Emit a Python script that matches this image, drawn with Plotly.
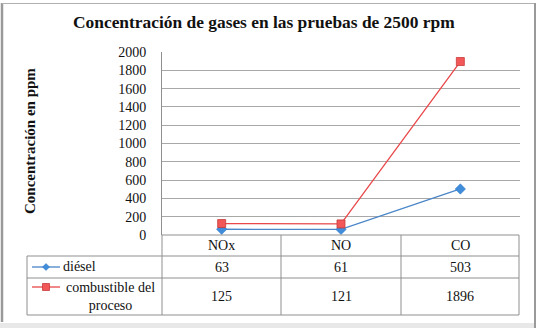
import plotly.graph_objects as go

categories = ["NOx", "NO", "CO"]
diesel = [63, 61, 503]
combustible = [125, 121, 1896]
series_names = ["diésel", "combustible del<br>proceso"]
y_ticks = [0, 200, 400, 600, 800, 1000, 1200, 1400, 1600, 1800, 2000]
title_text = "Concentración de gases en las pruebas de 2500 rpm"
y_title = "Concentración en ppm"

W, H = 539, 328
L, R, T, B = 162, 520, 52, 235
SERIF = "'Liberation Serif', 'Times New Roman', Times, serif"
GRID = "#a8a8a8"
TBL = "#8f8f8f"
BLUE = "#4a86c8"
BLUE_M = "#3f8ddb"
RED = "#e8484a"
RED_M = "#f25858"


def px(x):
    return (x - L) / (R - L)


def py(y):
    return (B - y) / (B - T)


fig = go.Figure()
fig.add_trace(go.Scatter(x=categories, y=diesel, mode="lines+markers",
                         line=dict(color=BLUE, width=1.3),
                         marker=dict(symbol="diamond", size=8, color=BLUE_M,
                                     line=dict(color="#2f75c0", width=0.5)),
                         showlegend=False, cliponaxis=False, hoverinfo="skip"))
fig.add_trace(go.Scatter(x=categories, y=combustible, mode="lines+markers",
                         line=dict(color=RED, width=1.3),
                         marker=dict(symbol="square", size=8, color=RED_M,
                                     line=dict(color="#c83a3a", width=0.8)),
                         showlegend=False, cliponaxis=False, hoverinfo="skip"))

shapes = []
def hline(x0, x1, y, color=TBL, w=1):
    shapes.append(dict(type="line", xref="paper", yref="paper",
                       x0=px(x0), x1=px(x1), y0=py(y), y1=py(y),
                       line=dict(color=color, width=w)))

def vline(x, y0, y1, color=TBL, w=1):
    shapes.append(dict(type="line", xref="paper", yref="paper",
                       x0=px(x), x1=px(x), y0=py(y0), y1=py(y1),
                       line=dict(color=color, width=w)))

# table grid
hline(162, 519, 235)
hline(27, 519, 256)
hline(27, 519, 278)
hline(27, 519, 315)
for xv in [162, 281, 401, 519]:
    vline(xv, 235, 315)
vline(27, 256, 315)

# outer frame
vline(2, 3, 322, color="#9a9a9a", w=2.5)
hline(2, 535, 3.5, color="#b0b0b0", w=1.2)
vline(535, 3, 328, color="#9a9a9a", w=2)
shapes.append(dict(type="rect", xref="paper", yref="paper",
                   x0=px(0), x1=px(534), y0=py(323), y1=py(328),
                   fillcolor="#e8e8e8", line=dict(width=0), layer="below"))

# legend keys
ky1, ky2 = 267, 287
hline(32, 60, ky1, color=BLUE, w=1.3)
d = 3.5
shapes.append(dict(type="path", xref="paper", yref="paper",
                   path=f"M {px(46-d)},{py(ky1)} L {px(46)},{py(ky1-d)} L {px(46+d)},{py(ky1)} L {px(46)},{py(ky1+d)} Z",
                   fillcolor=BLUE_M, line=dict(color="#2f75c0", width=0.5)))
hline(32, 60, ky2, color=RED, w=1.3)
s = 3.5
shapes.append(dict(type="rect", xref="paper", yref="paper",
                   x0=px(46-s), x1=px(46+s), y0=py(ky2+s), y1=py(ky2-s),
                   fillcolor=RED_M, line=dict(color="#c83a3a", width=0.8)))

annotations = []
tf = dict(family=SERIF, size=14, color="#111111")
for c in categories:
    annotations.append(dict(x=c, xref="x", y=py(245.5), yref="paper", text=c,
                            showarrow=False, font=tf, xanchor="center", yanchor="middle"))
for c, v in zip(categories, diesel):
    annotations.append(dict(x=c, xref="x", y=py(267), yref="paper", text=str(v),
                            showarrow=False, font=tf, xanchor="center", yanchor="middle"))
for c, v in zip(categories, combustible):
    annotations.append(dict(x=c, xref="x", y=py(296.5), yref="paper", text=str(v),
                            showarrow=False, font=tf, xanchor="center", yanchor="middle"))
annotations.append(dict(x=px(61), xref="paper", y=py(266.5), yref="paper", text=series_names[0],
                        showarrow=False, font=tf, xanchor="left", yanchor="middle"))
annotations.append(dict(x=px(110), xref="paper", y=py(296.5), yref="paper", text=series_names[1],
                        showarrow=False, font=tf, xanchor="center", yanchor="middle", align="center"))
annotations.append(dict(x=px(30), xref="paper", y=py(141), yref="paper", text=f"<b>{y_title}</b>",
                        showarrow=False, textangle=-90,
                        font=dict(family=SERIF, size=15, color="#111111"),
                        xanchor="center", yanchor="middle"))
annotations.append(dict(x=px(264), xref="paper", y=py(22), yref="paper", text=f"<b>{title_text}</b>",
                        showarrow=False,
                        font=dict(family=SERIF, size=17.4, color="#111111"),
                        xanchor="center", yanchor="middle"))

fig.update_layout(
    width=W, height=H,
    margin=dict(l=L, r=W - R, t=T, b=H - B, pad=0),
    paper_bgcolor="white", plot_bgcolor="white",
    font=dict(family=SERIF),
    shapes=shapes, annotations=annotations,
    xaxis=dict(type="category", range=[-0.5, 2.5], showticklabels=False,
               showgrid=False, zeroline=False, showline=False, ticks=""),
    yaxis=dict(range=[0, 2000], tickvals=y_ticks, ticktext=[str(t) for t in y_ticks],
               showgrid=True, gridcolor=GRID, gridwidth=1,
               zeroline=False, showline=True, linecolor=TBL, linewidth=1,
               ticks="outside", ticklen=12, tickcolor="rgba(0,0,0,0)",
               tickfont=dict(family=SERIF, size=14, color="#111111")),
)

fig.write_html("out.html", config={"displayModeBar": False},
               post_script="document.body.style.margin='0';document.body.style.overflow='hidden';")
